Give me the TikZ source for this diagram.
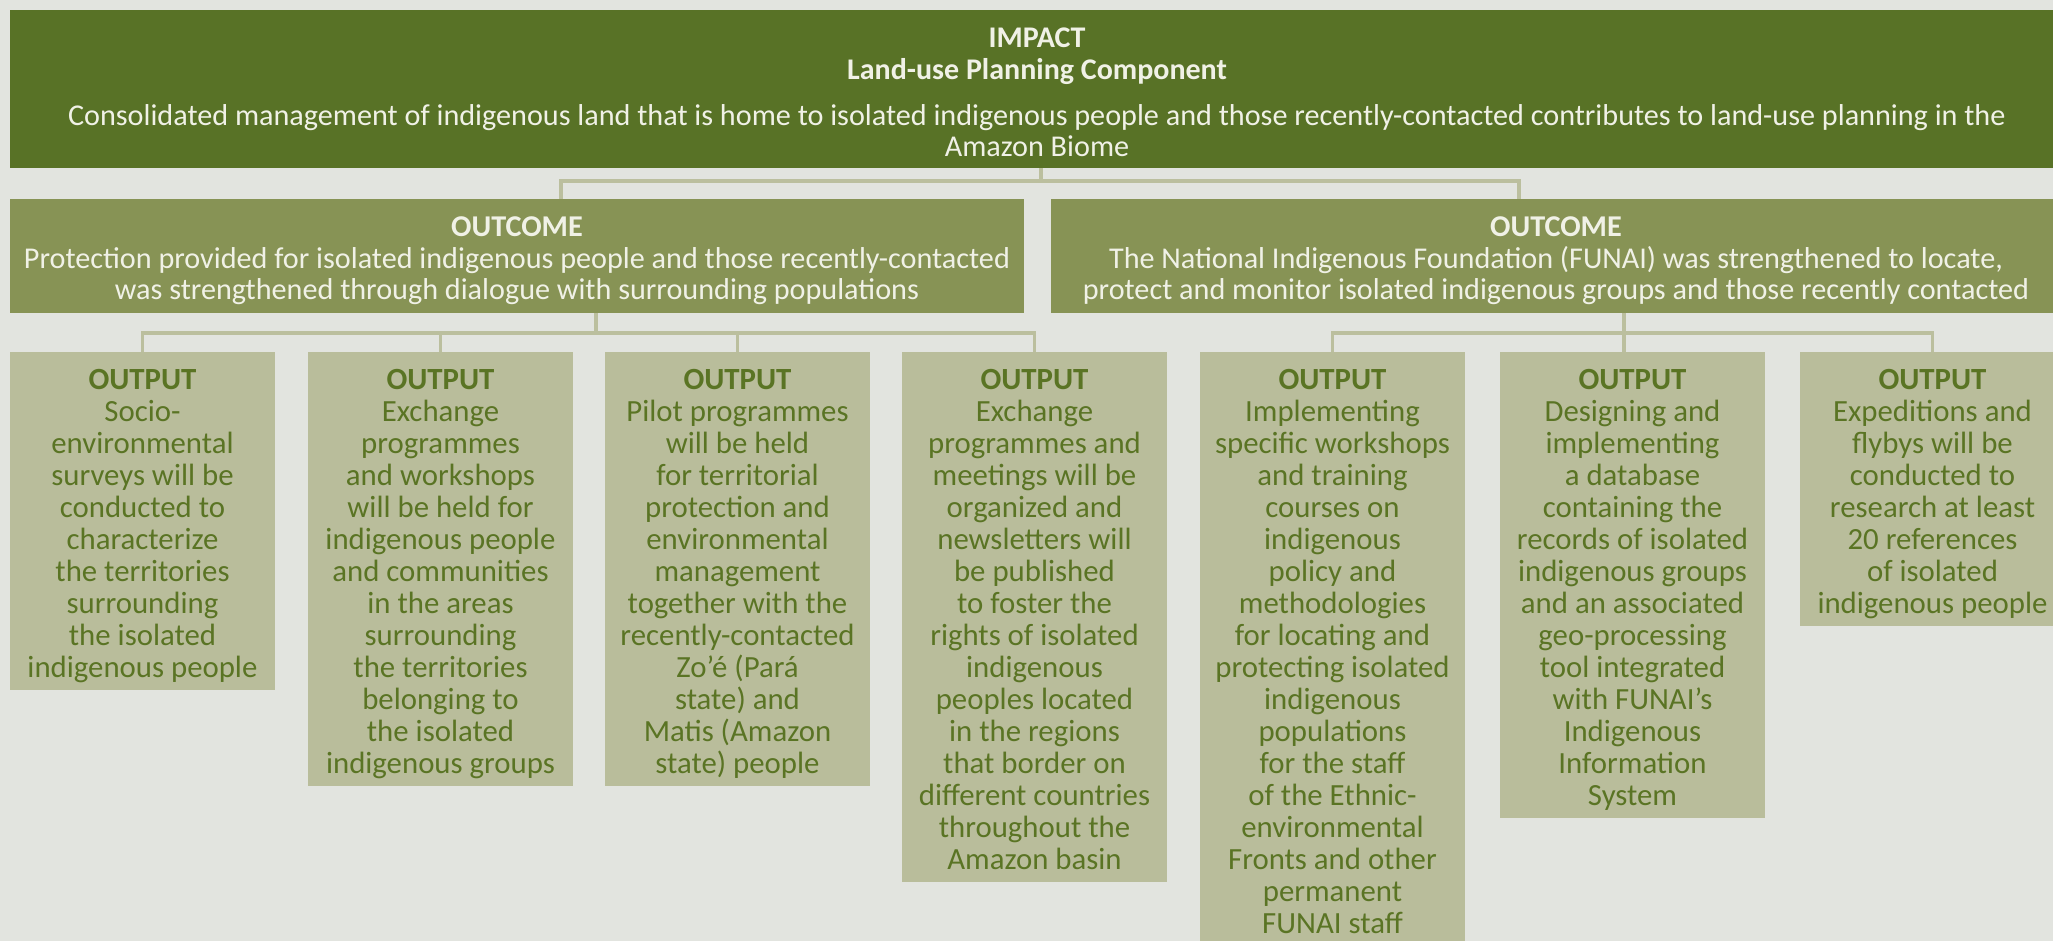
\documentclass[tikz,border=0pt]{standalone}
\usepackage{fontspec}
\setmainfont{Carlito}
\definecolor{bgc}{HTML}{E2E4DF}
\definecolor{impfill}{HTML}{587226}
\definecolor{ocfill}{HTML}{879355}
\definecolor{outfill}{HTML}{B9BD9B}
\definecolor{connc}{HTML}{BBBF9E}
\definecolor{outgreen}{HTML}{5A7424}
\definecolor{lighttext}{HTML}{F0F1E6}
\begin{document}
\begin{tikzpicture}[x=0.5pt,y=-0.5pt,
  boxbase/.style={anchor=north west, inner sep=0, outer sep=0},
  impbox/.style={boxbase, fill=impfill},
  ocbox/.style={boxbase, fill=ocfill},
  outbox/.style={boxbase, fill=outfill, minimum width=132.5pt},
  lighttxt/.style={inner sep=0, align=center, text=lighttext},
  outtext/.style={anchor=north, inner sep=0, align=center, text=outgreen, font=\fontsize{15.4}{16}\selectfont},
  conn/.style={draw=connc, line width=1.6pt}]
\useasboundingbox (0,0) rectangle (2053,941);
\clip (0,0) rectangle (2053,941);
\fill[bgc] (0,0) rectangle (2053,941);

% impact
\node[impbox, minimum width=1027pt, minimum height=79pt] (imp) at (10,10) {};
\node[lighttxt, font=\bfseries\fontsize{15}{15.8}\selectfont] (impT) at (1037,56) {IMPACT\\Land-use Planning Component};
\node[lighttxt, font=\fontsize{15.1}{15.6}\selectfont] (impP) at (1037,131) {Consolidated management of indigenous land that is home to isolated indigenous people and those recently-contacted contributes to land-use planning in the\\Amazon Biome};

% outcomes
\node[ocbox, minimum width=507pt, minimum height=57pt] (oc1) at (10,199) {};
\node[ocbox, minimum width=505pt, minimum height=57pt] (oc2) at (1051,199) {};
\node[lighttxt, font=\fontsize{15.1}{15.8}\selectfont] (oc1T) at (517,261) {\textbf{OUTCOME}\\Protection provided for isolated indigenous people and those recently-contacted\\was strengthened through dialogue with surrounding populations};
\node[lighttxt, font=\fontsize{15.1}{15.8}\selectfont] (oc2T) at (1556,261) {\textbf{OUTCOME}\\The National Indigenous Foundation (FUNAI) was strengthened to locate,\\protect and monitor isolated indigenous groups and those recently contacted};

% outputs
\node[outbox, minimum height=169pt] (o1) at (10,352) {};
\node[outbox, minimum height=217pt] (o2) at (308,352) {};
\node[outbox, minimum height=217pt] (o3) at (605,352) {};
\node[outbox, minimum height=265pt] (o4) at (902,352) {};
\node[outbox, minimum height=300pt] (o5) at (1200,352) {};
\node[outbox, minimum height=233pt] (o6) at (1500,352) {};
\node[outbox, minimum height=137pt] (o7) at (1800,352) {};

\node[outtext] (o1T) at (142.5,368.5) {\textbf{OUTPUT}\\Socio-\\environmental\\surveys will be\\conducted to\\characterize\\the territories\\surrounding\\the isolated\\indigenous people};
\node[outtext] (o2T) at (440.5,368.5) {\textbf{OUTPUT}\\Exchange\\programmes\\and workshops\\will be held for\\indigenous people\\and communities\\in the areas\\surrounding\\the territories\\belonging to\\the isolated\\indigenous groups};
\node[outtext] (o3T) at (737.5,368.5) {\textbf{OUTPUT}\\Pilot programmes\\will be held\\for territorial\\protection and\\environmental\\management\\together with the\\recently-contacted\\Zo’é (Pará\\state) and\\Matis (Amazon\\state) people};
\node[outtext] (o4T) at (1034.5,368.5) {\textbf{OUTPUT}\\Exchange\\programmes and\\meetings will be\\organized and\\newsletters will\\be published\\to foster the\\rights of isolated\\indigenous\\peoples located\\in the regions\\that border on\\different countries\\throughout the\\Amazon basin};
\node[outtext] (o5T) at (1332.5,368.5) {\textbf{OUTPUT}\\Implementing\\specific workshops\\and training\\courses on\\indigenous\\policy and\\methodologies\\for locating and\\protecting isolated\\indigenous\\populations\\for the staff\\of the Ethnic-\\environmental\\Fronts and other\\permanent\\FUNAI staff};
\node[outtext] (o6T) at (1632.5,368.5) {\textbf{OUTPUT}\\Designing and\\implementing\\a database\\containing the\\records of isolated\\indigenous groups\\and an associated\\geo-processing\\tool integrated\\with FUNAI’s\\Indigenous\\Information\\System};
\node[outtext] (o7T) at (1932.5,368.5) {\textbf{OUTPUT}\\Expeditions and\\flybys will be\\conducted to\\research at least\\20 references\\of isolated\\indigenous people};

% connectors
\coordinate (impB) at (1041,168);
\coordinate (oc1in) at (561,199);
\coordinate (oc2in) at (1519,199);
\coordinate (oc1out) at (596,313);
\coordinate (oc2out) at (1624,313);
\draw[conn] (impB) -- ++(0,13) -| (oc1in);
\draw[conn] (impB) ++(0,13) -| (oc2in);
\draw[conn] (oc1out) -- ++(0,20);
\draw[conn] (o1.north) -- ++(0,-19) -| (o4.north);
\draw[conn] (o2.north) -- ++(0,-19);
\draw[conn] (o3.north) -- ++(0,-19);
\draw[conn] (oc2out) -- (oc2out |- o6.north);
\draw[conn] (o5.north) -- ++(0,-19) -| (o7.north);
\end{tikzpicture}
\end{document}
